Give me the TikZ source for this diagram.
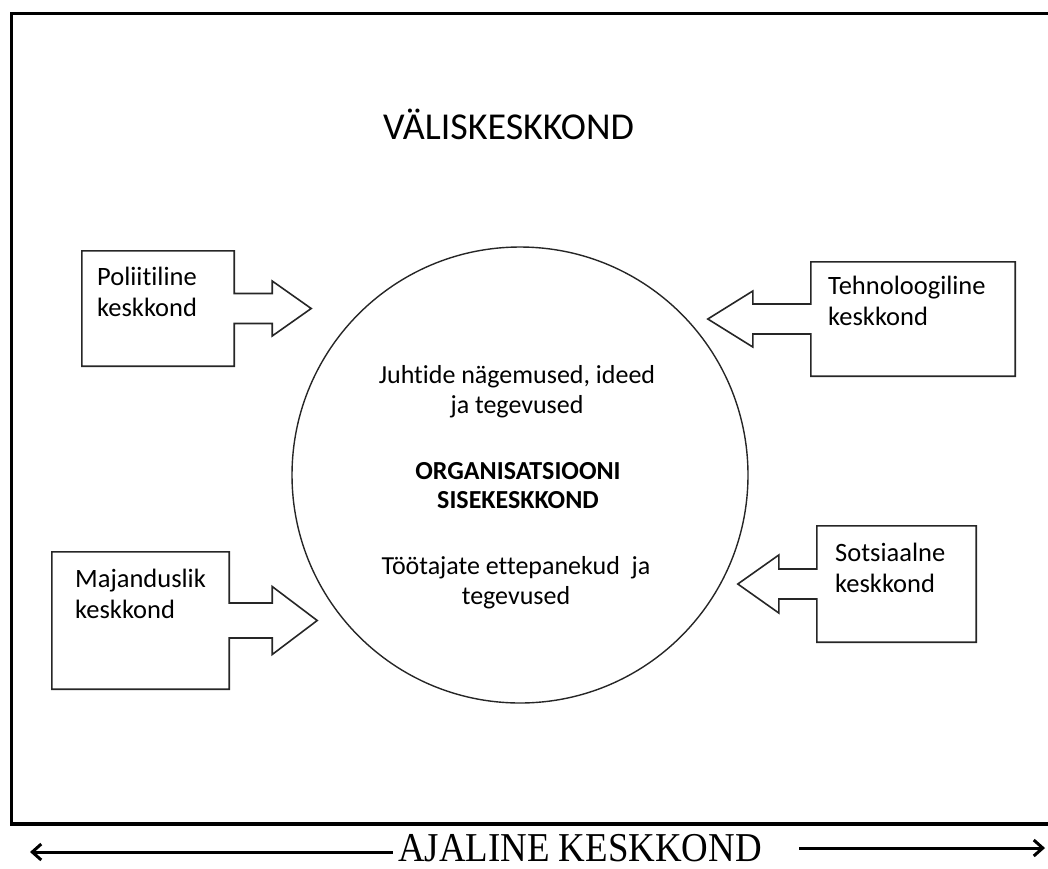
\documentclass[tikz,border=0pt]{standalone}
\usepackage{fontspec}
\setmainfont{Carlito}[Ligatures=NoCommon]
\newfontfamily\timesfont{Liberation Serif}
\usetikzlibrary{arrows.meta}
\tikzset{
  boxshape/.style={minimum width=#1, inner sep=0pt, draw=none},
  outline/.style={line width=1.6pt, line join=miter, draw=black!85},
  boxtext/.style={inner sep=0pt, align=left, font=\fontsize{26.5}{31}\selectfont},
  circtext/.style={inner sep=0pt, align=center, font=\fontsize{26}{30}\selectfont},
  timearrow/.style={line width=3pt, -{Straight Barb[length=9pt,width=16pt,line width=3pt]}},
}
\begin{document}
\begin{tikzpicture}[x=1pt,y=-1pt]
\useasboundingbox (0,0) rectangle (1048,868);
% outer frame
\draw[line width=3.5pt] (11.5,13.3) rectangle (1060,824);
% title
\node[inner sep=0pt, anchor=base, font=\fontsize{38}{44}\selectfont] (title) at (508.5,139) {VÄLISKESKKOND};
% circle
\node[circle, draw=black!85, line width=1.4pt, minimum size=456pt, inner sep=0pt] (org) at (520,475) {};
\node[circtext, anchor=base] (juht) at (517,413) {Juhtide nägemused, ideed\\ja tegevused};
\node[circtext, anchor=base, font=\fontsize{26}{29}\bfseries] (orgt) at (518,508) {ORGANISATSIOONI\\SISEKESKKOND};
\node[circtext, anchor=base] (toot) at (516,604) {Töötajate ettepanekud~ ja\\tegevused};
% boxes (outlines drawn together with the block arrows)
\node[boxshape=152pt, minimum height=115pt] (pol) at (158,308.5) {};
\node[boxshape=204pt, minimum height=114pt] (teh) at (913,319) {};
\node[boxshape=177pt, minimum height=137pt] (maj) at (140.5,620.5) {};
\node[boxshape=159pt, minimum height=116pt] (sot) at (896.5,584) {};
% Poliitiline
\draw[outline] (pol.north west) -- (pol.north east) -- ([yshift=15pt]pol.east)
  -- ([xshift=38pt,yshift=15pt]pol.east) -- ([xshift=38pt,yshift=27.5pt]pol.east)
  -- ([xshift=77pt]pol.east)
  -- ([xshift=38pt,yshift=-27.5pt]pol.east) -- ([xshift=38pt,yshift=-15pt]pol.east)
  -- ([yshift=-15pt]pol.east) -- (pol.south east) -- (pol.south west) -- cycle;
% Tehnoloogiline
\draw[outline] (teh.north east) -- (teh.north west) -- ([yshift=15pt]teh.west)
  -- ([xshift=-58pt,yshift=15pt]teh.west) -- ([xshift=-58pt,yshift=28pt]teh.west)
  -- ([xshift=-103pt]teh.west)
  -- ([xshift=-58pt,yshift=-28pt]teh.west) -- ([xshift=-58pt,yshift=-15pt]teh.west)
  -- ([yshift=-15pt]teh.west) -- (teh.south west) -- (teh.south east) -- cycle;
% Majanduslik
\draw[outline] (maj.north west) -- (maj.north east) -- ([yshift=17.5pt]maj.east)
  -- ([xshift=43pt,yshift=17.5pt]maj.east) -- ([xshift=43pt,yshift=34pt]maj.east)
  -- ([xshift=88pt]maj.east)
  -- ([xshift=43pt,yshift=-34pt]maj.east) -- ([xshift=43pt,yshift=-17.5pt]maj.east)
  -- ([yshift=-17.5pt]maj.east) -- (maj.south east) -- (maj.south west) -- cycle;
% Sotsiaalne
\draw[outline] (sot.north east) -- (sot.north west) -- ([yshift=15pt]sot.west)
  -- ([xshift=-38pt,yshift=15pt]sot.west) -- ([xshift=-38pt,yshift=29pt]sot.west)
  -- ([xshift=-79pt]sot.west)
  -- ([xshift=-38pt,yshift=-29pt]sot.west) -- ([xshift=-38pt,yshift=-15pt]sot.west)
  -- ([yshift=-15pt]sot.west) -- (sot.south west) -- (sot.south east) -- cycle;
% box texts
\node[boxtext, anchor=base west] (polt) at (97,316) {Poliitiline\\keskkond};
\node[boxtext, anchor=base west] (teht) at (828,325) {Tehnoloogiline\\keskkond};
\node[boxtext, anchor=base west] (majt) at (75,618) {Majanduslik\\keskkond};
\node[boxtext, anchor=base west] (sott) at (835,592) {Sotsiaalne\\keskkond};
% time axis
\node[inner sep=0pt, anchor=base, xscale=0.9, font=\timesfont\fontsize{41}{48}\selectfont] (ajal) at (580,861) {AJALINE KESKKOND};
\coordinate (lt) at (30,852);
\coordinate (rt) at (1045,848);
\draw[timearrow] ([xshift=-5pt]ajal.west |- lt) -- (lt);
\draw[timearrow] ([xshift=37pt]ajal.east |- rt) -- (rt);
\end{tikzpicture}
\end{document}
